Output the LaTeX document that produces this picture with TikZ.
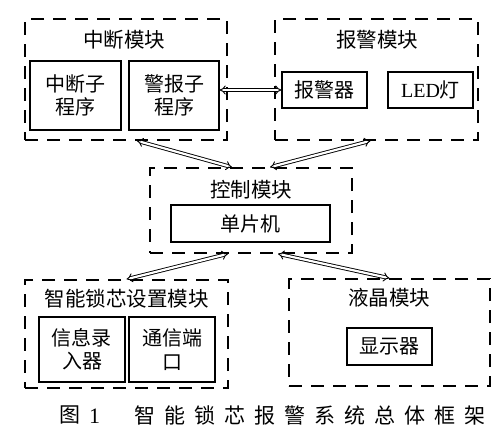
\documentclass[tikz,border=0pt]{standalone}
\usepackage{fontspec}
\setmainfont{Liberation Serif}
\newfontfamily\cjk{Noto Sans CJK SC}
\newfontfamily\cjkcap[LetterSpace=43]{Noto Sans CJK SC}
\usetikzlibrary{arrows.meta}

\begin{document}
\begin{tikzpicture}[x=1pt, y=-1pt,
        module/.style={draw, line width=1.6pt, dash pattern=on 13pt off 9pt, inner sep=0pt},
        unit/.style={draw, line width=1.2pt, inner sep=0pt, align=center,
          font=\cjk\fontsize{20}{23.5}\selectfont},
        title/.style={inner sep=0pt, font=\cjk\fontsize{20.5}{24}\selectfont},
        link/.style={double, double distance=2.2pt, line width=0.9pt, {Implies}-{Implies}}
        ]
        \useasboundingbox (0,0) rectangle (504,445);
        \node [module, name=intmod, minimum width=202pt, minimum height=121pt] at (126,79.5) {};
        \node [module, name=alarmmod, minimum width=203pt, minimum height=121pt] at (376.5,79.5) {};
        \node [module, name=ctrlmod, minimum width=202pt, minimum height=85pt] at (251,210.5) {};
        \node [module, name=lockmod, minimum width=203pt, minimum height=108pt] at (126.5,334) {};
        \node [module, name=lcdmod, minimum width=201pt, minimum height=107pt] at (389.5,332.5) {};

        \node [title, name=intname] at (124,40) {中断模块};
        \node [title, name=alarmname] at (377,40) {报警模块};
        \node [title, name=ctrlname] at (251,190) {控制模块};
        \node [title, name=lockname] at (127,299) {智能锁芯设置模块};
        \node [title, name=lcdname] at (389,298) {液晶模块};

        \node [unit, name=intsub, minimum width=91pt, minimum height=69pt] at (75.5,95.5) {中断子\\程序};
        \node [unit, name=alarmsub, minimum width=90pt, minimum height=69pt] at (174,95.5) {警报子\\程序};
        \node [unit, name=buzzer, minimum width=85pt, minimum height=36pt] at (324.5,90) {报警器};
        \node [unit, name=led, minimum width=85pt, minimum height=36pt] at (430.5,90) {\rmfamily LED\cjk 灯};
        \node [unit, name=mcu, minimum width=159pt, minimum height=37pt] at (250.5,223.5) {单片机};
        \node [unit, name=input, minimum width=86pt, minimum height=65pt] at (82,349.5) {信息录\\入器};
        \node [unit, name=comm, minimum width=86pt, minimum height=65pt] at (172,349.5) {通信端\\口};
        \node [unit, name=display, minimum width=85pt, minimum height=37pt] at (389.5,346.5) {显示器};

        \coordinate (intout) at ([xshift=11pt]intmod.south);
        \coordinate (ctrlinl) at ([xshift=-19pt]ctrlmod.north);
        \coordinate (ctrlinr) at ([xshift=19pt]ctrlmod.north);
        \coordinate (alarmout) at ([xshift=-6pt]alarmmod.south);
        \coordinate (ctrloutl) at ([xshift=-23pt]ctrlmod.south);
        \coordinate (ctrloutr) at ([xshift=27pt]ctrlmod.south);

        \draw [link] (alarmsub.east |- buzzer.west) -- (buzzer.west);
        \draw [link] (intout) -- (ctrlinl);
        \draw [link] (ctrlinr) -- (alarmout);
        \draw [link] (ctrloutl) -- (lockmod.north);
        \draw [link] (ctrloutr) -- (lcdmod.north);

        \node [inner sep=0pt, name=capfig, anchor=west] at (59,415) {\cjk\fontsize{21}{24}\selectfont 图};
        \node [inner sep=0pt, name=capnum, anchor=west] at (89,416) {\fontsize{22}{24}\selectfont 1};
        \node [inner sep=0pt, name=captext, anchor=west] at (134,415) {\cjkcap\fontsize{21}{24}\selectfont 智能锁芯报警系统总体框架};
      \end{tikzpicture}
\end{document}
